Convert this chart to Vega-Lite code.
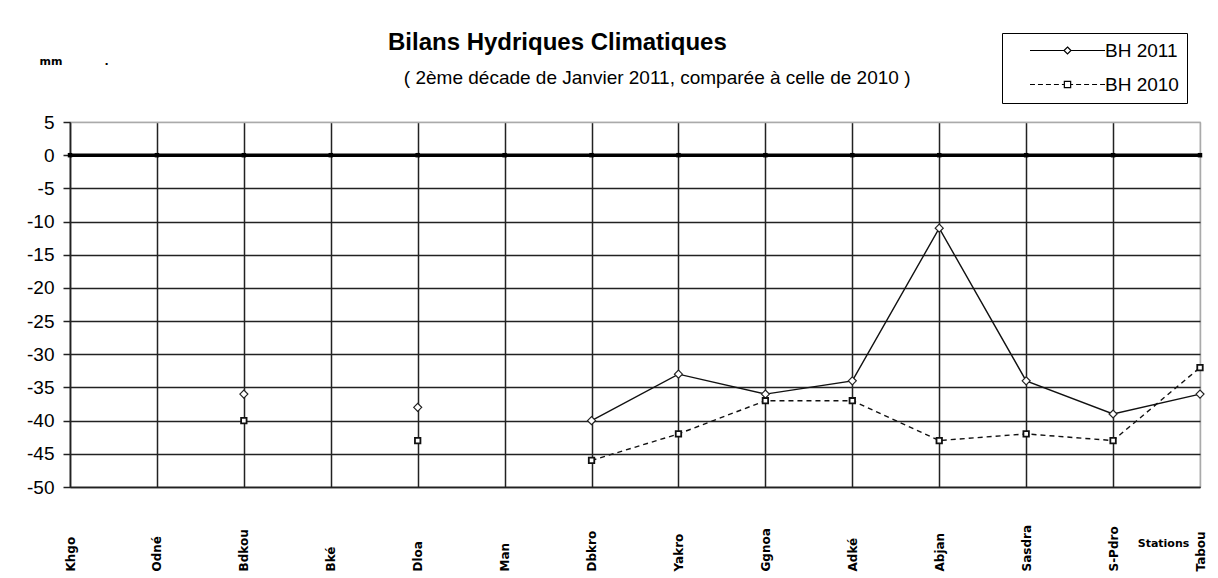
{
  "$schema": "https://vega.github.io/schema/vega-lite/v6.json",
  "width": 1130,
  "height": 365,
  "autosize": {"type": "none"},
  "padding": {"left": 70, "top": 122, "right": 18, "bottom": 91},
  "background": "white",
  "config": {
    "font": "Liberation Sans",
    "view": {"stroke": "#aaaaaa", "strokeWidth": 1.2}
  },
  "title": {
    "text": "Bilans Hydriques Climatiques",
    "subtitle": "\u200b\u00a0\u00a0\u00a0( 2ème  décade de Janvier  2011, comparée à celle de 2010 )",
    "anchor": "start",
    "frame": "group",
    "dx": 318,
    "font": "Liberation Sans",
    "fontSize": 24,
    "fontWeight": "bold",
    "color": "black",
    "subtitleFont": "Liberation Sans",
    "subtitleFontSize": 19,
    "subtitleColor": "black",
    "subtitlePadding": 14,
    "offset": -55
  },
  "datasets": {
    "bh": [
      {"station": "Khgo", "series": "BH 2011", "value": null},
      {"station": "Odné", "series": "BH 2011", "value": null},
      {"station": "Bdkou", "series": "BH 2011", "value": -36},
      {"station": "Bké", "series": "BH 2011", "value": null},
      {"station": "Dloa", "series": "BH 2011", "value": -38},
      {"station": "Man", "series": "BH 2011", "value": null},
      {"station": "Dbkro", "series": "BH 2011", "value": -40},
      {"station": "Yakro", "series": "BH 2011", "value": -33},
      {"station": "Ggnoa", "series": "BH 2011", "value": -36},
      {"station": "Adké", "series": "BH 2011", "value": -34},
      {"station": "Abjan", "series": "BH 2011", "value": -11},
      {"station": "Sasdra", "series": "BH 2011", "value": -34},
      {"station": "S-Pdro", "series": "BH 2011", "value": -39},
      {"station": "Tabou", "series": "BH 2011", "value": -36},
      {"station": "Khgo", "series": "BH 2010", "value": null},
      {"station": "Odné", "series": "BH 2010", "value": null},
      {"station": "Bdkou", "series": "BH 2010", "value": -40},
      {"station": "Bké", "series": "BH 2010", "value": null},
      {"station": "Dloa", "series": "BH 2010", "value": -43},
      {"station": "Man", "series": "BH 2010", "value": null},
      {"station": "Dbkro", "series": "BH 2010", "value": -46},
      {"station": "Yakro", "series": "BH 2010", "value": -42},
      {"station": "Ggnoa", "series": "BH 2010", "value": -37},
      {"station": "Adké", "series": "BH 2010", "value": -37},
      {"station": "Abjan", "series": "BH 2010", "value": -43},
      {"station": "Sasdra", "series": "BH 2010", "value": -42},
      {"station": "S-Pdro", "series": "BH 2010", "value": -43},
      {"station": "Tabou", "series": "BH 2010", "value": -32}
    ],
    "zero": [
      {"station": "Khgo", "value": 0},
      {"station": "Odné", "value": 0},
      {"station": "Bdkou", "value": 0},
      {"station": "Bké", "value": 0},
      {"station": "Dloa", "value": 0},
      {"station": "Man", "value": 0},
      {"station": "Dbkro", "value": 0},
      {"station": "Yakro", "value": 0},
      {"station": "Ggnoa", "value": 0},
      {"station": "Adké", "value": 0},
      {"station": "Abjan", "value": 0},
      {"station": "Sasdra", "value": 0},
      {"station": "S-Pdro", "value": 0},
      {"station": "Tabou", "value": 0}
    ]
  },
  "data": {"name": "bh"},
  "encoding": {
    "x": {
      "field": "station",
      "type": "nominal",
      "sort": null,
      "scale": {
        "type": "point",
        "padding": 0,
        "domain": ["Khgo", "Odné", "Bdkou", "Bké", "Dloa", "Man", "Dbkro", "Yakro", "Ggnoa", "Adké", "Abjan", "Sasdra", "S-Pdro", "Tabou"]
      },
      "axis": {
        "title": "Stations",
        "titleFont": "DejaVu Sans",
        "titleFontSize": 11,
        "titleFontWeight": "bold",
        "titleColor": "black",
        "titleX": 1093,
        "titleY": 56,
        "titleAlign": "center",
        "titleBaseline": "middle",
        "labelAngle": 270,
        "labelAlign": "left",
        "labelBaseline": "middle",
        "labelPadding": 84,
        "labelFont": "DejaVu Sans",
        "labelFontSize": 12,
        "labelFontWeight": "bold",
        "labelColor": "black",
        "labelOverlap": false,
        "ticks": false,
        "domainColor": "#222222",
        "domainWidth": 1.5,
        "grid": true,
        "gridColor": {"condition": {"test": "datum.value === 'Tabou'", "value": "#aaaaaa"}, "value": "#222222"},
        "gridWidth": 1.5,
        "gridOpacity": 1
      }
    },
    "y": {
      "field": "value",
      "type": "quantitative",
      "scale": {"domain": [-50, 5], "nice": false, "zero": false},
      "axis": {
        "values": [-50, -45, -40, -35, -30, -25, -20, -15, -10, -5, 0, 5],
        "labelExpr": "'' + datum.value",
        "title": "mm\u00a0\u00a0\u00a0\u00a0\u00a0\u00a0\u00a0\u00a0\u00a0\u00a0\u00a0.",
        "titleAngle": 0,
        "titleX": -31,
        "titleY": -61,
        "titleAlign": "left",
        "titleBaseline": "middle",
        "titleFont": "DejaVu Sans",
        "titleFontSize": 11,
        "titleFontWeight": "bold",
        "titleColor": "black",
        "labelFont": "Liberation Sans",
        "labelFontSize": 19,
        "labelColor": "black",
        "labelPadding": 9,
        "tickSize": 7,
        "tickColor": "#222222",
        "tickWidth": 1.5,
        "domainColor": "#222222",
        "domainWidth": 1.5,
        "grid": true,
        "gridColor": {"condition": {"test": "datum.value === 5", "value": "#aaaaaa"}, "value": "#222222"},
        "gridWidth": 1.5,
        "gridOpacity": 1
      }
    }
  },
  "layer": [
    {
      "data": {"name": "zero"},
      "mark": {"type": "line", "color": "black", "strokeWidth": 3.5},
      "encoding": {}
    },
    {
      "data": {"name": "zero"},
      "mark": {"type": "point", "shape": "square", "filled": true, "color": "black", "size": 20, "opacity": 1},
      "encoding": {}
    },
    {
      "transform": [{"filter": "datum.series === 'BH 2011'"}],
      "mark": {"type": "line", "color": "#111111", "strokeWidth": 1.4, "invalid": "break-paths-filter-domains"},
      "encoding": {}
    },
    {
      "transform": [{"filter": "datum.series === 'BH 2010'"}],
      "mark": {"type": "line", "color": "#111111", "strokeWidth": 1.4, "strokeDash": [5, 4], "invalid": "break-paths-filter-domains"},
      "encoding": {}
    },
    {
      "transform": [{"filter": "datum.series === 'BH 2011'"}],
      "mark": {"type": "point", "shape": "diamond", "filled": true, "fill": "white", "stroke": "#222222", "strokeWidth": 1.2, "size": 64, "opacity": 1},
      "encoding": {}
    },
    {
      "transform": [{"filter": "datum.series === 'BH 2010'"}],
      "mark": {"type": "point", "shape": "square", "filled": true, "fill": "white", "stroke": "#111111", "strokeWidth": 1.8, "size": 30, "opacity": 1},
      "encoding": {}
    },
    {
      "transform": [{"filter": "datum.series === 'none'"}],
      "mark": {"type": "point", "filled": false, "color": "black", "strokeWidth": 1.2, "opacity": 1},
      "encoding": {
        "shape": {
          "field": "series",
          "type": "nominal",
          "scale": {
            "domain": ["BH 2011", "BH 2010"],
            "range": [
              "M -5.36 0 L -0.5 0 M 0.5 0 L 5.36 0 M 0 -0.5 L 0.5 0 L 0 0.5 L -0.5 0 Z",
              "M -5.36 0 L -4.65 0 M -4.22 0 L -3.51 0 M -3.08 0 L -2.37 0 M -1.94 0 L -1.23 0 M -0.8 0 L -0.45 0 M 0.45 0 L 0.8 0 M 1.23 0 L 1.94 0 M 2.37 0 L 3.08 0 M 3.51 0 L 4.22 0 M 4.65 0 L 5.36 0 M -0.45 -0.45 L 0.45 -0.45 L 0.45 0.45 L -0.45 0.45 Z"
            ]
          },
          "legend": {
            "title": null,
            "orient": "none",
            "legendX": 932,
            "legendY": -89,
            "strokeColor": "black",
            "fillColor": "white",
            "padding": 8,
            "rowPadding": 14,
            "symbolSize": 196,
            "symbolStrokeWidth": 1.2,
            "symbolStrokeColor": "black",
            "symbolFillColor": "white",
            "symbolOpacity": 1,
            "symbolOffset": 48,
            "labelOffset": 28,
            "labelExpr": "datum.label + '\u00a0\u00a0\u00a0\u00a0'",
            "labelFont": "Liberation Sans",
            "labelFontSize": 19,
            "labelColor": "black",
            "labelLimit": 200,
            "encode": {
              "symbols": {
                "update": {
                  "stroke": {"value": "black"},
                  "fill": {"value": "white"},
                  "strokeWidth": {"value": 1.2},
                  "opacity": {"value": 1}
                }
              }
            }
          }
        }
      }
    }
  ]
}
